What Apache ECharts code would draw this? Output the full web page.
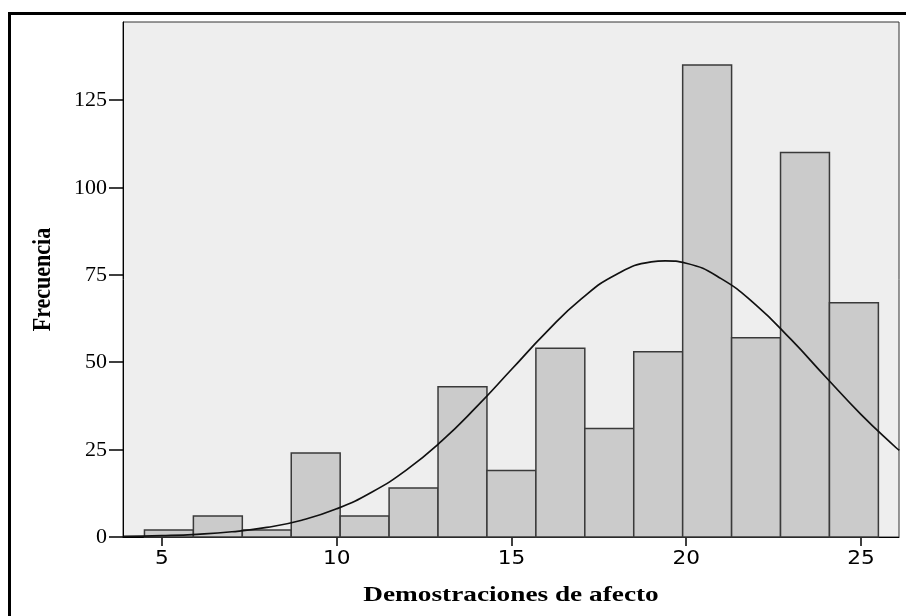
<!DOCTYPE html>
<html>
<head>
<meta charset="utf-8">
<script src="https://cdn.jsdelivr.net/npm/echarts@6/dist/echarts.min.js"></script>
<style>
  html, body { margin: 0; padding: 0; background: #ffffff; }
  #chart { width: 906px; height: 616px; }
</style>
</head>
<body>
<div id="chart"></div>
<script>
// Histogram bin edges and counts
const binEdges = [4.5, 5.9, 7.3, 8.7, 10.1, 11.5, 12.9, 14.3, 15.7, 17.1, 18.5, 19.9, 21.3, 22.7, 24.1, 25.5];
const counts = [2, 6, 2, 24, 6, 14, 43, 19, 54, 31, 53, 135, 57, 110, 67];

// Fitted normal curve, sampled points (x, frequency)
const curveX = [3.9, 5, 6, 7, 8, 9, 10, 11, 12, 13, 14, 15, 16, 17, 18, 19, 19.4, 20, 21, 22, 23, 24, 25, 26, 26.1];
const curveY = [0.16, 0.38, 0.77, 1.5, 2.75, 4.8, 8.06, 12.8, 19.2, 27.4, 37.2, 47.9, 58.6, 68.1, 75.1, 78.7, 79, 78.3, 73.9, 66.3, 56.5, 45.7, 35.1, 25.6, 24.8];

// Axis ticks and titles
const xTicks = [5, 10, 15, 20, 25];
const yTicks = [0, 25, 50, 75, 100, 125];
const xTitle = 'Demostraciones de afecto';
const yTitle = 'Frecuencia';

const binData = counts.map((c, i) => [binEdges[i], binEdges[i + 1], c]);
const curveData = curveX.map((x, i) => [x, curveY[i]]);

const X_MIN = 3.886, X_MAX = 26.09, Y_MAX = 147.3;

const chart = echarts.init(document.getElementById('chart'), null, { renderer: 'canvas' });

chart.setOption({
  animation: false,
  backgroundColor: '#ffffff',
  grid: {
    left: 123, top: 22, right: 7, bottom: 79,
    show: true,
    backgroundColor: '#eeeeee',
    borderColor: '#333333',
    borderWidth: 1
  },
  xAxis: {
    type: 'value',
    min: X_MIN,
    max: X_MAX,
    axisLine: { show: true, onZero: false, lineStyle: { color: '#000', width: 1 } },
    axisTick: { show: true, length: 9, customValues: xTicks, lineStyle: { color: '#000', width: 1.5 } },
    axisLabel: { show: false },
    splitLine: { show: false }
  },
  yAxis: {
    type: 'value',
    min: 0,
    max: Y_MAX,
    axisLine: { show: true, lineStyle: { color: '#000', width: 1 } },
    axisTick: { show: true, length: 14, customValues: yTicks, lineStyle: { color: '#000', width: 1.5 } },
    axisLabel: { show: false },
    splitLine: { show: false }
  },
  series: [
    {
      type: 'custom',
      data: binData,
      encode: { x: [0, 1], y: 2 },
      renderItem: function (params, api) {
        const p0 = api.coord([api.value(0), 0]);
        const p1 = api.coord([api.value(1), api.value(2)]);
        return {
          type: 'rect',
          shape: { x: p0[0], y: p1[1], width: p1[0] - p0[0], height: p0[1] - p1[1] },
          style: { fill: '#cbcbcb', stroke: '#3a3a3a', lineWidth: 1.5 }
        };
      },
      z: 2
    },
    {
      type: 'line',
      data: curveData,
      smooth: true,
      showSymbol: false,
      lineStyle: { color: '#111111', width: 1.7 },
      z: 3
    }
  ]
});

// Tick labels and axis titles, placed through the axis scales and drawn slightly widened
const y0 = chart.convertToPixel({ yAxisIndex: 0 }, 0);
const xLeft = chart.convertToPixel({ xAxisIndex: 0 }, X_MIN);
const xMid = chart.convertToPixel({ xAxisIndex: 0 }, (X_MIN + X_MAX) / 2);
const yMid = chart.convertToPixel({ yAxisIndex: 0 }, Y_MAX / 2);

const graphics = [{
  type: 'rect',
  shape: { x: 9.5, y: 13.5, width: 1000, height: 1000 },
  style: { fill: 'none', stroke: '#000000', lineWidth: 3 },
  z: 100
}];

xTicks.forEach(function (v) {
  graphics.push({
    type: 'text',
    x: chart.convertToPixel({ xAxisIndex: 0 }, v),
    y: y0 + 22,
    scaleX: 1.14,
    style: {
      text: String(v), font: '19px "DejaVu Sans"', fill: '#000',
      align: 'center', verticalAlign: 'middle'
    }
  });
});

yTicks.forEach(function (v) {
  graphics.push({
    type: 'text',
    x: xLeft - 16,
    y: chart.convertToPixel({ yAxisIndex: 0 }, v) + 1,
    scaleX: 1.1,
    style: {
      text: String(v), font: '20px "Liberation Serif"', fill: '#000',
      align: 'right', verticalAlign: 'middle'
    }
  });
});

graphics.push({
  type: 'text',
  x: xMid,
  y: y0 + 58,
  scaleX: 1.24,
  style: {
    text: xTitle, font: 'bold 22px "Liberation Serif"', fill: '#000',
    align: 'center', verticalAlign: 'middle'
  }
});

graphics.push({
  type: 'text',
  x: 44,
  y: yMid,
  rotation: Math.PI / 2,
  scaleY: 1.1,
  style: {
    text: yTitle, font: 'bold 22px "Liberation Serif"', fill: '#000',
    align: 'center', verticalAlign: 'middle'
  }
});

chart.setOption({ graphic: graphics });
</script>
</body>
</html>
